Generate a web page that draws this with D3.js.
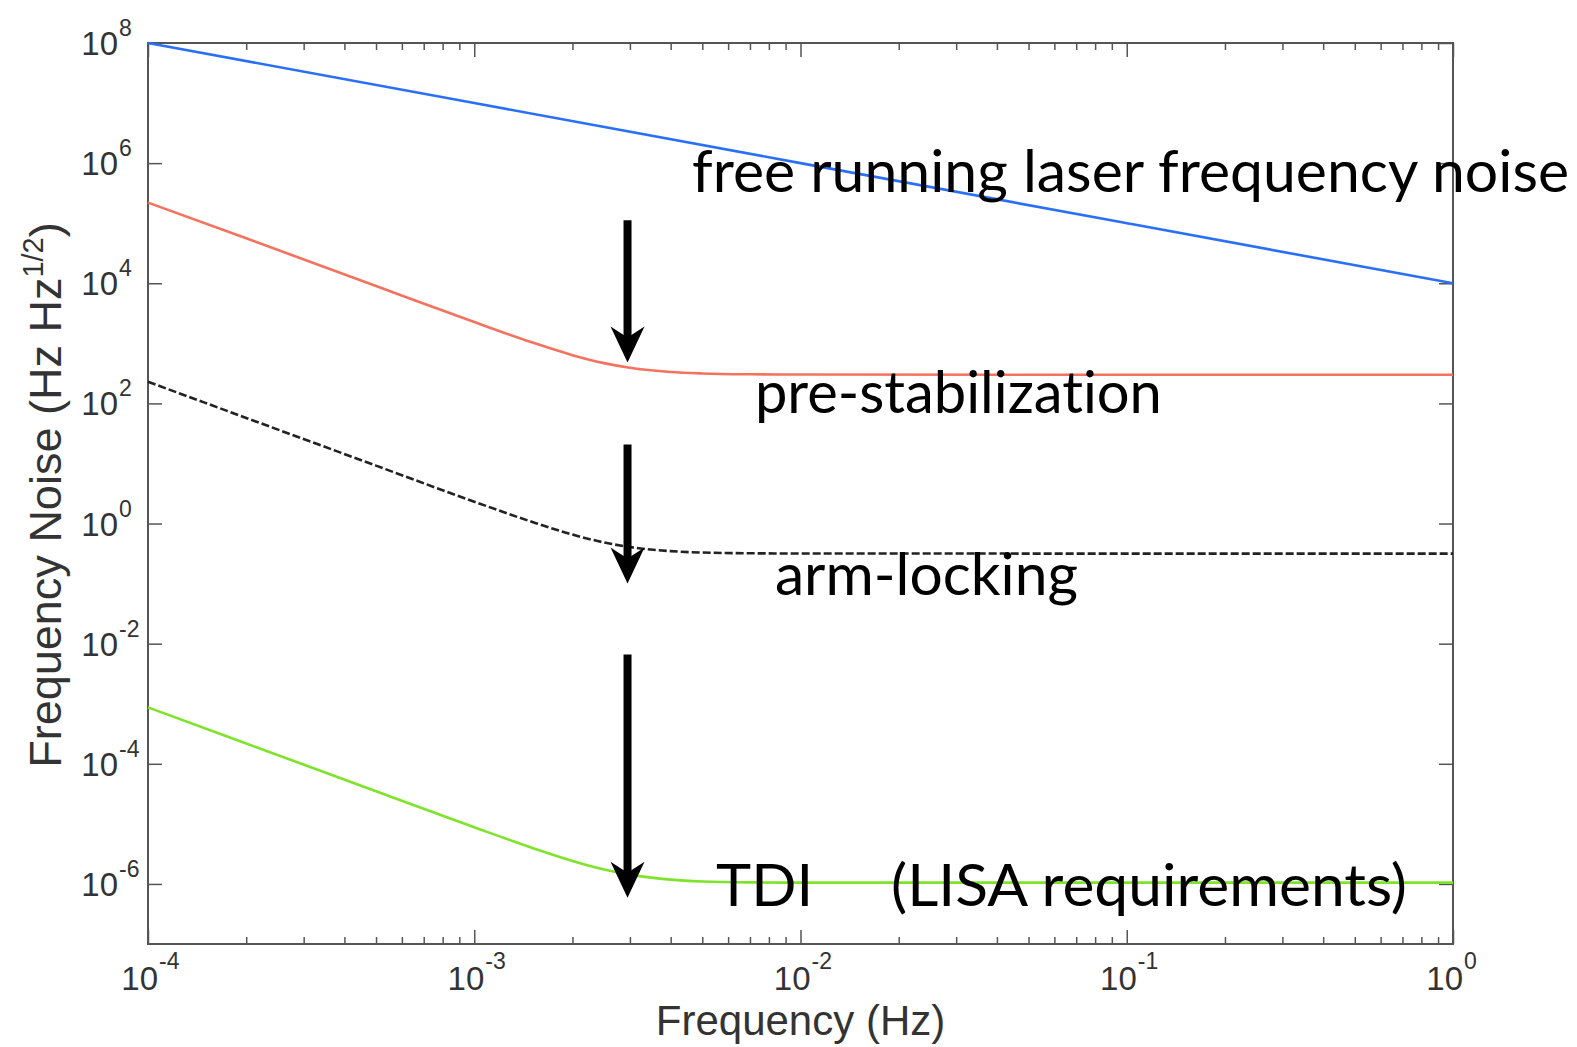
<!DOCTYPE html>
<html>
<head>
<meta charset="utf-8">
<script src="https://cdn.jsdelivr.net/npm/d3@7"></script>
<style>
  body { margin: 0; background: #fff; }
  svg { display: block; }
  .note { font-variant-ligatures: none; }
</style>
</head>
<body>
<svg id="chart" width="1577" height="1047"></svg>
<script>
const freqs = [1e-4, 2e-4, 5e-4, 1e-3, 1.5e-3, 2e-3, 2.5e-3, 3e-3, 4e-3, 5e-3, 7e-3, 1e-2, 1e-1, 1];

// free running laser noise (straight line)
const freeFreqs = [1e-4, 1e-3, 1e-2, 1e-1, 1];
const freeNoise = [1e8, 1e7, 1e6, 1e5, 1e4];

const preStab = [2.2e5, 5.6e4, 9.0e3, 2.26e3, 1040, 636, 468, 391, 333, 315, 305, 302, 300, 300];
const armLock = [229, 57.3, 9.2, 2.31, 1.07, 0.655, 0.484, 0.406, 0.347, 0.329, 0.32, 0.317, 0.316, 0.316];
const tdi = [8.7e-4, 2.18e-4, 3.49e-5, 8.78e-6, 4.01e-6, 2.42e-6, 1.74e-6, 1.43e-6, 1.18e-6, 1.1e-6, 1.06e-6, 1.05e-6, 1.05e-6, 1.05e-6];

// tick exponents
const xExps = [-4, -3, -2, -1, 0];
const yExps = [8, 6, 4, 2, 0, -2, -4, -6];

// annotation arrows: frequency, top value, tip value
const arrows = [
  { f: 2.95e-3, from: 1.12e5, to: 480 },
  { f: 2.95e-3, from: 20.7, to: 0.1 },
  { f: 2.95e-3, from: 6.6e-3, to: 5.9e-7 }
];

// annotation texts: left frequency, baseline value, pixel length
const notes = [
  { text: "free running laser frequency noise", f: 4.65e-3, v: 3.31e5, len: 877 },
  { text: "pre-stabilization", f: 7.25e-3, v: 69.2, len: 407 },
  { text: "arm-locking", f: 8.35e-3, v: 6.45e-2, len: 303 },
  { text: "TDI", f: 5.51e-3, v: 4.29e-7, len: 97 },
  { text: "(LISA requirements)", f: 1.894e-2, v: 4.29e-7, len: 516 }
];

const svg = d3.select("#chart");
const width = 1577;
const height = 1047;
const margin = { top: 43, right: 124, bottom: 103, left: 148 };

const x = d3.scaleLog().domain([1e-4, 1]).range([margin.left, width - margin.right]);
const y = d3.scaleLog().domain([1e-7, 1e8]).range([height - margin.bottom, margin.top]);

const axisColor = "#555";
const textColor = "#333";

// frame
svg.append("rect")
  .attr("x", margin.left)
  .attr("y", margin.top)
  .attr("width", width - margin.left - margin.right)
  .attr("height", height - margin.top - margin.bottom)
  .attr("fill", "none")
  .attr("stroke", axisColor)
  .attr("stroke-width", 2);

const majorX = xExps.map((e) => Math.pow(10, e));
const minorX = [];
xExps.slice(0, -1).forEach((e) => {
  for (let k = 2; k <= 9; k++) minorX.push(k * Math.pow(10, e));
});
const majorY = yExps.map((e) => Math.pow(10, e));

const styleAxis = (g) => {
  g.select(".domain").remove();
  g.selectAll(".tick line").attr("stroke", axisColor).attr("stroke-width", 1.5);
};

// ticks pointing inward on all four sides
svg.append("g").attr("transform", `translate(0,${height - margin.bottom})`)
  .call(d3.axisBottom(x).tickValues(minorX).tickSize(-7).tickFormat("")).call(styleAxis);
svg.append("g").attr("transform", `translate(0,${height - margin.bottom})`)
  .call(d3.axisBottom(x).tickValues(majorX).tickSize(-14).tickFormat("")).call(styleAxis);
svg.append("g").attr("transform", `translate(0,${margin.top})`)
  .call(d3.axisTop(x).tickValues(minorX).tickSize(-7).tickFormat("")).call(styleAxis);
svg.append("g").attr("transform", `translate(0,${margin.top})`)
  .call(d3.axisTop(x).tickValues(majorX).tickSize(-14).tickFormat("")).call(styleAxis);
svg.append("g").attr("transform", `translate(${margin.left},0)`)
  .call(d3.axisLeft(y).tickValues(majorY).tickSize(-14).tickFormat("")).call(styleAxis);
svg.append("g").attr("transform", `translate(${width - margin.right},0)`)
  .call(d3.axisRight(y).tickValues(majorY).tickSize(-14).tickFormat("")).call(styleAxis);

const labelFont = "'Liberation Sans', Arial, sans-serif";

// x tick labels as 10^n
const xl = svg.append("g").attr("font-family", labelFont).attr("fill", textColor);
xExps.forEach((e) => {
  const px = x(Math.pow(10, e));
  xl.append("text").attr("x", px + 10).attr("y", 990).attr("text-anchor", "end")
    .attr("font-size", 33).text("10");
  xl.append("text").attr("x", px + 11).attr("y", 969).attr("font-size", 23).text(String(e));
});

// y tick labels
const yl = svg.append("g").attr("font-family", labelFont).attr("fill", textColor);
yExps.forEach((e) => {
  const py = y(Math.pow(10, e));
  yl.append("text").attr("x", margin.left - 30).attr("y", py + 12).attr("text-anchor", "end")
    .attr("font-size", 33).text("10");
  yl.append("text").attr("x", margin.left - 29).attr("y", py - 7).attr("font-size", 23).text(String(e));
});

// axis titles
svg.append("text")
  .attr("x", (margin.left + width - margin.right) / 2)
  .attr("y", 1035)
  .attr("text-anchor", "middle")
  .attr("font-family", labelFont)
  .attr("font-size", 42)
  .attr("fill", textColor)
  .text("Frequency (Hz)");

const yTitle = svg.append("text")
  .attr("transform", "translate(61,495) rotate(-90)")
  .attr("text-anchor", "middle")
  .attr("font-family", labelFont)
  .attr("font-size", 45)
  .attr("fill", textColor);
yTitle.append("tspan").text("Frequency Noise (Hz Hz");
yTitle.append("tspan").attr("font-size", 29).attr("dy", -18).text("1/2");
yTitle.append("tspan").attr("dy", 18).text(")");

// curves
const line = d3.line()
  .x((d) => x(d.f))
  .y((d) => y(d.v))
  .curve(d3.curveMonotoneX);

const series = [
  { f: freeFreqs, v: freeNoise, color: "#2a6ff8", dash: null },
  { f: freqs, v: preStab, color: "#f4735e", dash: null },
  { f: freqs, v: armLock, color: "#222", dash: "8,3" },
  { f: freqs, v: tdi, color: "#7ee32a", dash: null }
];

series.forEach((s) => {
  const pts = s.f.map((f, i) => ({ f: f, v: s.v[i] }));
  svg.append("path")
    .datum(pts)
    .attr("fill", "none")
    .attr("stroke", s.color)
    .attr("stroke-width", 2.6)
    .attr("stroke-dasharray", s.dash)
    .attr("d", line);
});

// arrows
arrows.forEach((a) => {
  const ax = x(a.f);
  const y0 = y(a.from);
  const y1 = y(a.to);
  svg.append("line")
    .attr("x1", ax).attr("x2", ax)
    .attr("y1", y0).attr("y2", y1 - 20)
    .attr("stroke", "#000")
    .attr("stroke-width", 8);
  svg.append("path")
    .attr("d", `M${ax},${y1} L${ax - 17},${y1 - 36} L${ax},${y1 - 25} L${ax + 17},${y1 - 36} Z`)
    .attr("fill", "#000");
});

// annotation labels
notes.forEach((n) => {
  svg.append("text")
    .attr("class", "note")
    .attr("x", x(n.f))
    .attr("y", y(n.v))
    .attr("font-family", "Lato, 'Open Sans', sans-serif")
    .attr("font-size", 58)
    .attr("fill", "#000")
    .attr("textLength", n.len)
    .attr("lengthAdjust", "spacingAndGlyphs")
    .text(n.text);
});
</script>
</body>
</html>
